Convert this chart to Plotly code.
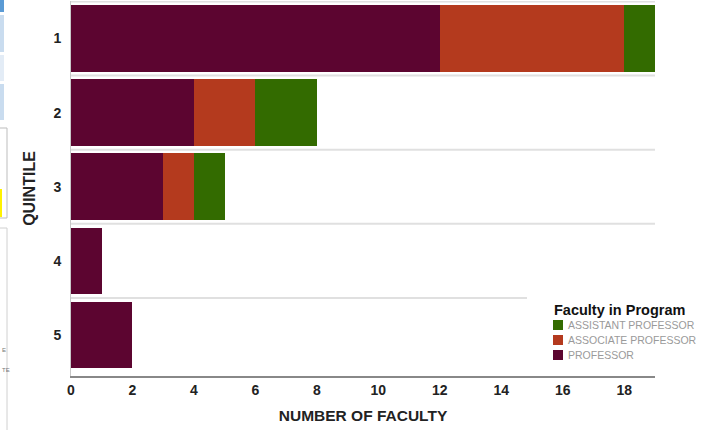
import plotly.graph_objects as go

# Faculty counts by quintile and rank
quintiles = [1, 2, 3, 4, 5]
professor = [12, 4, 3, 1, 2]
associate = [6, 2, 1, 0, 0]
assistant = [1, 2, 1, 0, 0]

x_ticks = [0, 2, 4, 6, 8, 10, 12, 14, 16, 18]

ranks = ["PROFESSOR", "ASSOCIATE PROFESSOR", "ASSISTANT PROFESSOR"]
colors = {
    "PROFESSOR": "#5C0530",
    "ASSOCIATE PROFESSOR": "#B43A1E",
    "ASSISTANT PROFESSOR": "#336B00",
}
legend_title = "Faculty in Program"

W, H = 709, 430
L, R, T, B = 71, 54, 1, 54
PW, PH = W - L - R, H - T - B


def px_x(px):
    return (px - L) / PW


def px_y(py):
    return (H - B - py) / PH


fig = go.Figure()
for name, vals in zip(ranks, [professor, associate, assistant]):
    fig.add_trace(go.Bar(
        y=quintiles, x=vals, orientation="h", name=name,
        marker=dict(color=colors[name], line=dict(width=0)),
        width=0.9, hoverinfo="x+name", showlegend=False,
    ))

shapes = []
annotations = []

# separators between quintile rows
for b in [0.5, 1.5, 2.5, 3.5, 4.5]:
    x1 = px_x(527) if b == 4.5 else 1
    shapes.append(dict(type="line", xref="paper", yref="y", x0=0, x1=x1,
                       y0=b, y1=b, line=dict(color="#E0E0E0", width=2),
                       layer="below"))


def rect(x0, y0, x1, y1, fill="rgba(0,0,0,0)", line="rgba(0,0,0,0)", lw=1):
    shapes.append(dict(type="rect", xref="paper", yref="paper",
                       x0=px_x(x0), x1=px_x(x1), y0=px_y(y1), y1=px_y(y0),
                       fillcolor=fill, line=dict(color=line, width=lw)))


# page chrome on the left edge
rect(0, 0, 4, 12, fill="#5B9BD5")
rect(0, 15, 4, 52, fill="#C9DCEF")
rect(0, 55, 4, 81, fill="#E3ECF6")
rect(0, 84, 4, 120, fill="#C9DCEF")
rect(-2, 128, 7, 218, line="#BDBDBD")
rect(0, 189, 2, 217, fill="#FFF200")
rect(-2, 228, 7, 432, line="#D0D0D0")
for txt, yy in [("E", 355), ("TE", 375)]:
    annotations.append(dict(xref="paper", yref="paper", x=px_x(0), y=px_y(yy),
                            text=txt, showarrow=False, xanchor="left",
                            font=dict(size=6, color="#777")))

# legend block, drawn top to bottom in reversed stacking order
annotations.append(dict(xref="paper", yref="paper", x=px_x(552), y=px_y(310),
                        text=f"<b>{legend_title}</b>", showarrow=False,
                        xanchor="left", yanchor="middle",
                        font=dict(size=14.5, color="#111")))
for i, name in enumerate(reversed(ranks)):
    cy = 325 + 15 * i
    rect(553, cy - 5, 563, cy + 5, fill=colors[name])
    annotations.append(dict(xref="paper", yref="paper", x=px_x(566), y=px_y(cy),
                            text=name, showarrow=False, xanchor="left",
                            yanchor="middle",
                            font=dict(size=10.5, color="#9A9A9A")))

fig.update_layout(
    width=W, height=H,
    margin=dict(l=L, r=R, t=T, b=B, autoexpand=False),
    barmode="stack",
    plot_bgcolor="white", paper_bgcolor="white",
    font=dict(family="Liberation Sans, Arial, sans-serif", color="#222"),
    shapes=shapes,
    annotations=annotations,
    showlegend=False,
    xaxis=dict(
        range=[0, 19], tickvals=x_ticks, showgrid=False, zeroline=False,
        showline=True, linecolor="#888", linewidth=2,
        tickfont=dict(size=14, color="#222", weight="bold"),
        title=dict(text="<b>NUMBER OF FACULTY</b>", font=dict(size=15.5, color="#222"),
                   standoff=13),
        ticks="",
    ),
    yaxis=dict(
        range=[5.553, 0.494], tickvals=quintiles, showgrid=False, zeroline=False,
        showline=True, linecolor="#C8C8C8", linewidth=1,
        tickfont=dict(size=14, color="#222", weight="bold"),
        title=dict(text="<b>QUINTILE</b>", font=dict(size=16, color="#222"),
                   standoff=13),
        ticks="", ticklabelstandoff=6,
    ),
)

fig.write_html("out.html")
